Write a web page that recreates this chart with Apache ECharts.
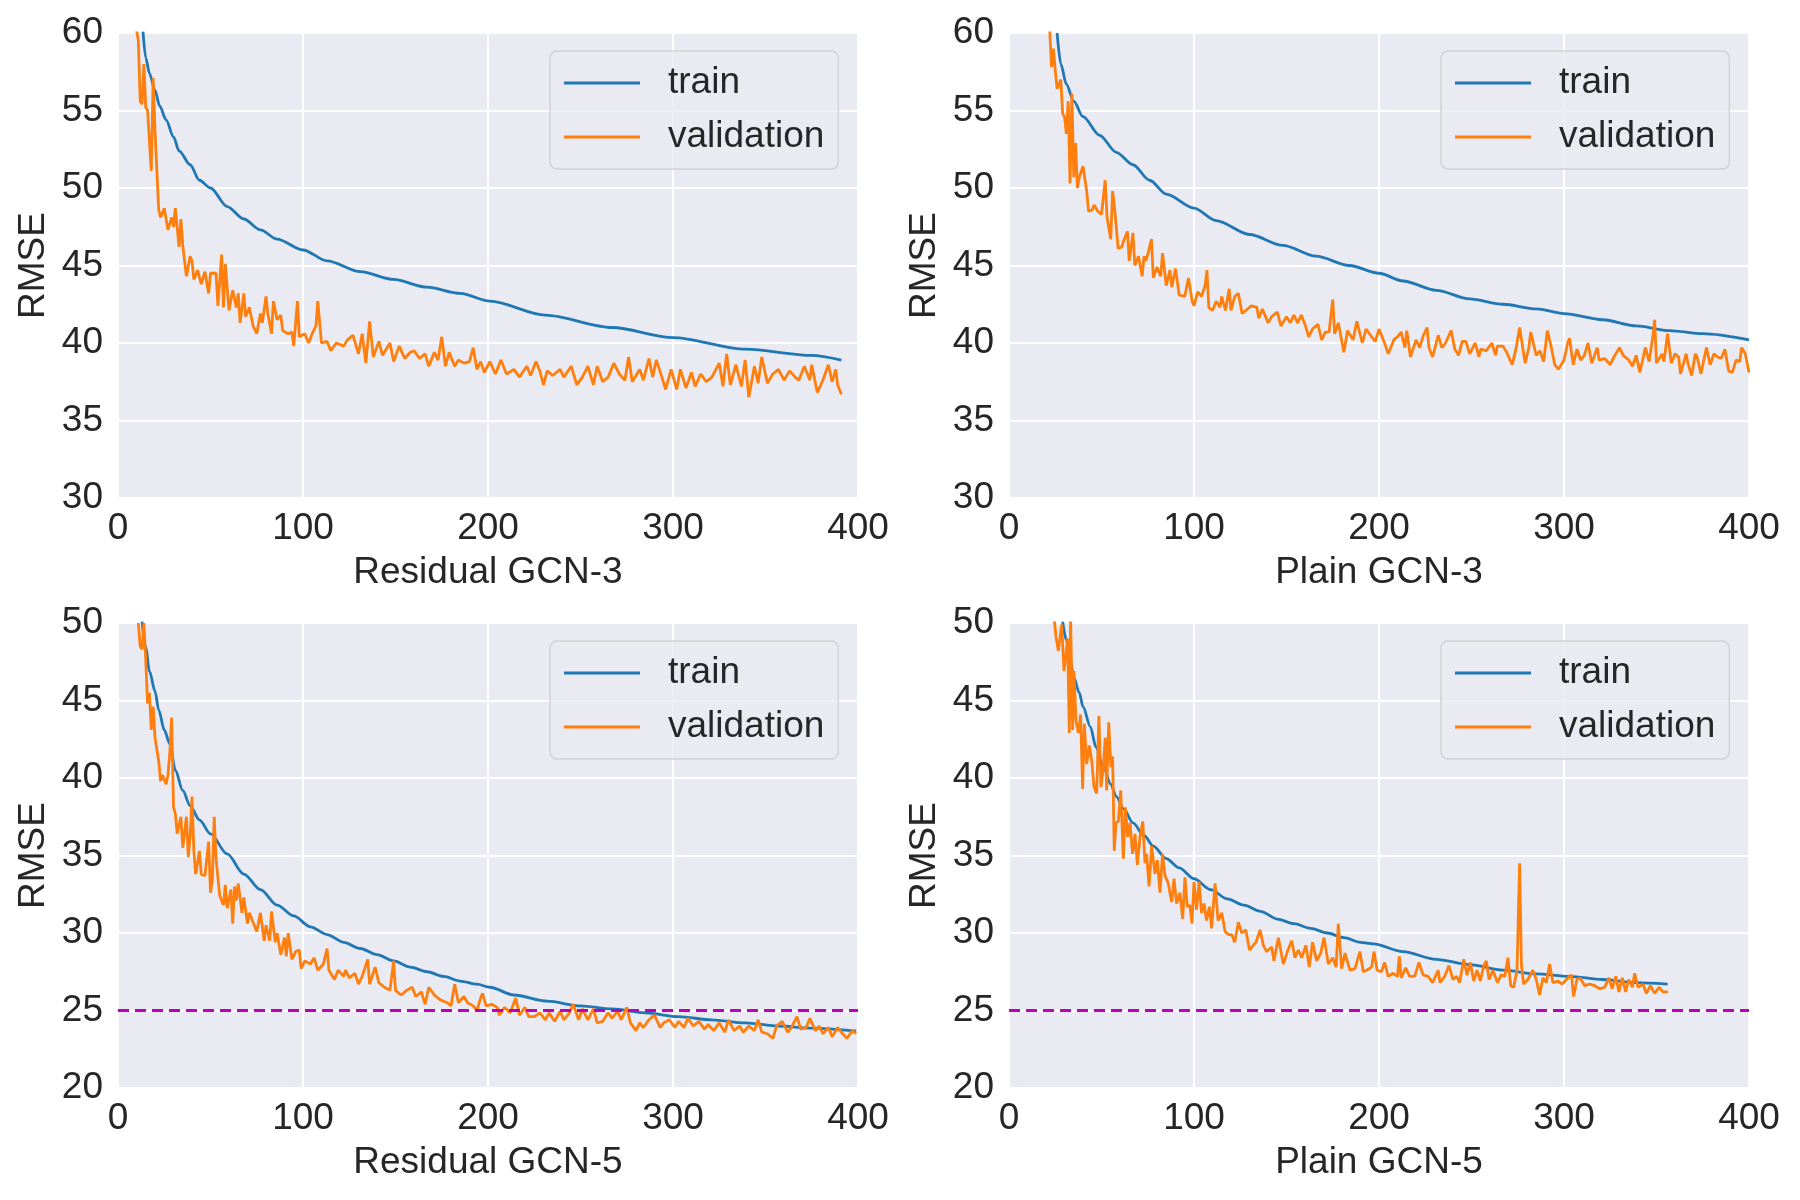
<!DOCTYPE html>
<html>
<head>
<meta charset="utf-8">
<title>RMSE curves</title>
<script src="https://cdn.jsdelivr.net/npm/echarts@6/dist/echarts.min.js"></script>
<style>
  html, body { margin: 0; padding: 0; background: #ffffff; }
  #main { width: 1800px; height: 1200px; }
</style>
</head>
<body>
<div id="main"></div>
<script>
// panel titles (x axis names)
var panelNames = ['Residual GCN-3', 'Plain GCN-3', 'Residual GCN-5', 'Plain GCN-5'];
var seriesNames = ['train', 'validation'];
var xTicks = [0, 100, 200, 300, 400];
var yRangeTop = [30, 60];
var yRangeBottom = [20, 50];
var targetRmse = 25;

// Residual GCN-3  [epoch, rmse]
var res3Train = [[13.5,60.1],[15,58.4],[17,57.4],[20,56.3],[22.5,55.3],[26,54.4],[30,53.3],[33,52.4],[39,51.5],[44,50.5],[50,50.0],[59,48.8],[68,48.0],[77,47.3],[86,46.7],[100,46.0],[113,45.3],[131,44.6],[149,44.1],[167,43.6],[185,43.2],[201,42.7],[231,41.8],[267,41.0],[300,40.35],[339,39.6],[375,39.2],[391,38.9]];
var res3Val = [[10,60.2],[11,59.5],[12,55.6],[13,55.4],[14,58],[15,55.2],[16,55],[17,53],[18,51.1],[19,57.1],[20,53.7],[22,48.6],[23,48.1],[25,48.7],[27,47.3],[29,48.1],[30,47.5],[31,48.7],[33,46.2],[34,48],[35,46.3],[37,44.3],[39,45.6],[40,45.3],[41,44.1],[43,44.7],[45,43.8],[47,44.6],[49,43.2],[50,44.5],[53,44.5],[54,42.4],[56,45.7],[57,42.3],[58,45.1],[60,42.1],[62,43.4],[64,42.3],[65,43.2],[66,41.3],[68,43.2],[69,41.7],[71,42.3],[73,41.1],[75,40.6],[77,41.9],[78,41.3],[80,43],[81,41.9],[83,40.6],[84,42.7],[86,41.5],[88,41.8],[89,40.8],[92,40.6],[94,40.7],[95,39.8],[97,42.7],[98,40.4],[101,40.6],[103,40],[105,40.6],[107,41.1],[108,42.7],[110,40],[113,40.1],[115,39.5],[118,40],[122,39.8],[124,40.2],[127,40.5],[130,39.3],[132,40.6],[134,38.7],[136,41.4],[138,39.1],[141,40.1],[143,39.2],[147,40],[149,38.8],[152,39.8],[155,39],[158,39.4],[160,39.5],[163,39],[166,39.3],[168,38.5],[171,39.4],[173,38.9],[175,40.4],[177,38.5],[179,39.4],[182,38.5],[184,38.9],[187,38.7],[190,38.8],[192,39.7],[194,38.3],[196,38.8],[198,38.1],[201,38.8],[204,38],[207,38.9],[210,38],[214,38.3],[217,37.8],[221,38.5],[223,37.9],[226,38.8],[228,38.2],[230,37.3],[232,38.2],[235,37.9],[239,38.3],[241,37.8],[245,38.5],[248,37.3],[251,37.8],[254,38.5],[257,37.3],[259,38.5],[262,37.5],[265,37.8],[268,38.7],[271,38],[274,37.6],[276,39.1],[278,37.5],[282,38.3],[284,37.6],[287,39],[289,37.8],[291,38.9],[294,37.8],[296,37],[299,38.3],[302,37],[304,38.3],[307,37.1],[310,38.1],[312,37.2],[315,38],[318,37.5],[321,37.8],[325,38.7],[327,37.2],[329,39.3],[331,37.3],[334,38.6],[337,37.2],[339,38.9],[341,36.5],[344,38.5],[346,37.4],[348,39.1],[351,37.4],[354,38],[357,38.3],[360,37.6],[363,38.2],[366,37.8],[368,37.6],[371,38.5],[374,37.6],[375,38.6],[378,36.8],[381,37.6],[384,38.6],[386,37.5],[388,38.3],[389,37.3],[391,36.7]];

// Plain GCN-3
var plain3Train = [[26,60],[28,58],[31,56.7],[35,55.6],[40,54.6],[49,53.4],[58,52.3],[67,51.5],[76,50.5],[85,49.6],[100,48.7],[112,47.9],[130,47],[148,46.3],[166,45.6],[184,45],[200,44.5],[213,44.0],[231,43.4],[249,42.85],[267,42.5],[285,42.2],[300,41.9],[321,41.5],[339,41.1],[357,40.8],[375,40.6],[400,40.2]];
var plain3Val = [[22,60.2],[23,57.8],[24,59],[25,57.6],[26,56.4],[28,57],[29,54.8],[30,54.6],[31,53.5],[32,55.6],[33,50.3],[34,56.1],[35,50.7],[36,52.9],[37,50],[38,50.7],[40,51.4],[42,49.8],[43,48.5],[45,48.6],[46,48.9],[48,48.5],[50,48.3],[52,50.5],[53,48.1],[55,46.7],[56,49.8],[57,48.8],[59,46.1],[61,46.2],[62,46.6],[64,47.2],[65,45.3],[67,47.1],[68,45],[70,45.6],[72,44.3],[73,45.6],[74,45.3],[75,45.7],[77,46.7],[78,44.2],[80,44.9],[82,44.3],[83,45.8],[85,43.7],[87,44.7],[88,43.6],[90,44.8],[92,43.1],[95,43],[97,44.2],[99,42.7],[100,42.4],[102,43.3],[104,43],[106,43.7],[107,44.7],[108,42.3],[110,42.1],[112,42.7],[114,42.3],[115,43],[117,42.1],[119,43.5],[120,42.1],[122,43],[124,43.2],[126,41.9],[128,42.1],[131,42.4],[134,42.3],[135,41.6],[137,42.2],[140,41.3],[142,41.7],[145,42],[147,41.1],[150,41.7],[152,41.3],[154,41.8],[156,41.3],[158,41.8],[160,41.2],[162,40.4],[164,40.9],[167,41.2],[169,40.2],[171,40.7],[173,40.7],[175,42.8],[176,40.6],[178,41.3],[181,39.4],[183,40.8],[186,40.2],[188,41.4],[191,40],[193,40.9],[196,40.4],[198,40.1],[200,40.9],[203,40],[205,39.3],[208,40.2],[210,40.4],[212,40.7],[214,39.7],[215,40.8],[217,39.1],[220,40.2],[222,39.7],[224,40.5],[226,41],[227,39.7],[229,39.1],[232,40.5],[234,39.7],[236,40],[239,40.8],[241,39.6],[243,39.2],[245,40.1],[247,40.1],[249,39.3],[252,40],[254,39.1],[255,39.6],[258,39.5],[261,40],[263,39.2],[264,39.8],[267,39.8],[269,39.4],[272,38.6],[274,39.6],[276,41],[279,38.7],[281,39.7],[282,40.7],[285,39.2],[287,39.5],[289,38.8],[291,40.8],[293,39.8],[295,38.6],[297,38.3],[300,38.9],[302,40],[303,40.3],[305,38.6],[307,39.6],[309,38.9],[311,39.2],[313,40],[315,38.7],[318,39.7],[319,38.9],[322,39],[325,38.6],[327,39.1],[330,39.7],[332,39.2],[335,38.9],[337,38.5],[339,39.2],[341,38.1],[344,39.7],[346,38.8],[348,40.4],[349,41.5],[350,38.7],[353,39.3],[354,38.8],[356,40.6],[358,38.7],[360,39.3],[362,39.1],[363,38],[366,39.3],[367,38.7],[369,37.9],[371,39.3],[372,39.1],[374,38],[377,39.7],[379,38.6],[381,39.3],[383,39.1],[385,39],[387,39.6],[389,38.2],[391,38.1],[393,38.9],[395,38.8],[396,39.7],[398,39.3],[400,38.1]];

// Residual GCN-5
var res5Train = [[13,50.1],[15,48.4],[17,46.9],[20,45.6],[22,44.4],[25,43.1],[28,42.2],[31,40.5],[35,39.2],[39,38.2],[44,37.3],[50,36.4],[59,35.1],[68,33.8],[77,32.8],[86,31.8],[95,31.1],[104,30.4],[113,29.9],[122,29.4],[131,29],[140,28.6],[149,28.2],[158,27.8],[167,27.5],[176,27.2],[185,26.9],[194,26.7],[201,26.5],[214,26.0],[232,25.6],[250,25.3],[267,25.1],[285,24.85],[303,24.6],[321,24.4],[339,24.2],[357,24.0],[375,23.86],[399,23.67]];
var res5Val = [[11,50],[12,48.5],[13,48.3],[14,50],[15,47.6],[16,44.8],[17,45.5],[18,43.1],[19,44.6],[20,42.6],[22,41.1],[23,39.8],[24,40.2],[26,39.6],[27,40.2],[28,41.6],[29,43.9],[30,38.1],[31,37.7],[32,36.4],[34,37.5],[35,35.5],[37,37.5],[38,34.9],[39,36.2],[40,38.8],[41,35.3],[42,33.8],[44,35.3],[45,33.8],[47,33.7],[49,35.9],[50,32.6],[51,33.4],[52,37.5],[53,34.8],[55,32.4],[57,31.8],[58,33.1],[59,31.6],[61,32.8],[62,30.6],[63,33],[64,32.1],[65,33.2],[67,31.3],[68,32.3],[70,30.6],[71,31.3],[73,30.7],[75,30.1],[77,31.3],[79,29.5],[80,30.5],[82,29.5],[83,31.4],[85,29.4],[86,30],[88,28.6],[90,29.7],[91,28.5],[92,30],[94,28.3],[96,28.8],[98,28.9],[99,27.7],[101,28.2],[104,28],[106,28.4],[108,27.6],[111,28],[113,29],[114,27.6],[117,27],[119,27.6],[122,27.2],[123,27.6],[125,27.1],[128,27.4],[130,26.7],[132,27.2],[135,28.3],[136,26.7],[139,27.8],[141,26.8],[144,26.5],[147,26.3],[149,28.2],[150,26.3],[153,26],[156,26.3],[159,26.5],[161,25.9],[164,26.2],[166,25.4],[168,26.5],[171,26],[174,25.7],[176,25.6],[178,25.5],[180,25.3],[182,26.7],[184,25.5],[187,25.9],[189,25.5],[192,25.3],[194,25],[196,25.8],[197,26.1],[199,25.3],[202,25.4],[205,25.2],[206,24.7],[209,25.2],[212,24.85],[215,25.8],[217,24.7],[220,25.2],[222,24.6],[225,24.6],[228,24.85],[231,24.4],[233,24.85],[236,24.3],[239,24.95],[241,24.4],[244,24.85],[246,25.4],[249,24.4],[251,25.1],[254,24.4],[257,25.1],[259,24.2],[262,24.3],[265,24.85],[267,24.5],[270,24.95],[272,24.4],[275,25.2],[277,24.2],[280,23.7],[282,24.2],[284,23.9],[287,24.4],[290,24.7],[293,23.9],[295,24.2],[298,24.4],[301,23.9],[303,24.3],[306,23.9],[308,24.5],[311,24],[314,24.3],[317,23.8],[319,24.1],[322,23.7],[325,24.2],[328,23.6],[330,24.4],[333,23.7],[336,24],[338,23.6],[341,24],[344,23.7],[346,24.4],[348,23.6],[351,23.5],[354,23.2],[356,24],[359,24.3],[362,23.6],[364,23.9],[367,24.6],[369,23.8],[372,23.9],[374,24.5],[377,23.7],[379,24],[381,23.5],[384,23.9],[386,23.3],[389,23.9],[391,23.6],[394,23.2],[397,23.7],[399,23.5]];

// Plain GCN-5
var plain5Train = [[29,50.1],[31,48.9],[33,47.7],[35,46.5],[38,45.5],[40,44.6],[44,43.3],[47,42],[51,40.7],[55,39.6],[58,38.8],[62,38],[67,37.1],[73,36.3],[78,35.6],[85,34.8],[92,34.2],[100,33.5],[109,32.8],[118,32.2],[127,31.8],[136,31.4],[145,30.9],[154,30.6],[163,30.3],[172,30],[181,29.7],[190,29.4],[197,29.3],[213,28.8],[231,28.3],[249,27.96],[267,27.6],[285,27.36],[303,27.2],[321,27.0],[339,26.8],[356,26.7]];
var plain5Val = [[24.5,50.2],[25.4,49.1],[26.7,48.2],[27.6,49.1],[28.5,49.9],[29.7,46.9],[30.8,48],[31.7,49],[32.6,42.9],[33.3,50.4],[34.4,43.1],[35.1,46.9],[36.2,43.7],[37.5,42.9],[38.7,44.1],[39.8,39.3],[40.7,43.5],[42,40.9],[43.4,42.1],[44.7,41.1],[46,39.4],[47.4,39],[48.6,44],[49.7,39.4],[51,40.7],[52,42.6],[52.8,39.2],[53.9,43.6],[55.1,40.7],[56,41.4],[56.9,35.3],[57.8,37.1],[59.1,37.2],[60.4,39.2],[61.8,34.8],[62.9,38.1],[64.1,36.2],[65.4,37.1],[66.8,35.1],[68.1,36.4],[69.4,34.4],[70.8,36.2],[72.3,37.2],[73.5,34.5],[74.4,35.1],[75.7,33],[77.1,35.6],[78.9,33.8],[80.2,34.7],[81.6,32.6],[83,35.1],[84.3,33.7],[86.1,33.2],[87.9,32],[89.2,33.5],[90.6,31.9],[92.4,32.6],[93.9,30.9],[95.1,33.6],[96.4,31.7],[97.8,31.8],[98.9,30.6],[100,33.3],[101.4,31.5],[102.7,33.3],[104.1,31.3],[105.4,31.9],[106.8,30.8],[108.3,31.7],[109.5,30.3],[111.4,33.2],[113,30.8],[115,31.3],[116.8,30.1],[118.6,29.9],[120.4,29.9],[122,29.4],[124,30.7],[125.8,30],[128,30.2],[130,28.9],[132,29.2],[133.5,29.4],[135.7,30.2],[137.5,29.2],[139.3,28.8],[142,29.1],[143.2,28.2],[145.6,29.7],[148.3,28],[150.5,28.8],[152.8,29.5],[154.6,28.4],[156.4,28.9],[158.2,28.4],[160.5,29.2],[162.3,27.8],[164.1,29.4],[166.3,28.2],[168.5,28.7],[170.3,29.7],[172.6,28],[175,28.4],[176.8,27.8],[178,30.6],[179.8,27.7],[181.6,28.7],[184.3,27.6],[187,27.7],[189.7,28.8],[191.5,27.5],[193.3,27.6],[196,27.8],[197.3,28.8],[199,27.6],[201.3,27.5],[203,28.1],[205,27.2],[207.6,27.4],[210,27.2],[211,28.5],[212,27.1],[214.4,27.75],[216.6,27.2],[219.3,27.2],[221.6,28.1],[223.8,27.3],[226.5,27.2],[229,26.8],[232,27.6],[233,26.8],[235.5,27.2],[237.8,27.9],[240,27],[242,27.2],[243.6,26.8],[245.8,28.3],[247.6,27.3],[249.4,28.1],[251.2,26.9],[253,27.6],[254.8,26.9],[256.6,27.9],[258,28.2],[259.5,27],[261.6,27.6],[264,26.8],[266,27.3],[268,27.2],[269.7,28.4],[271.2,26.6],[272.8,26.5],[274.6,27.6],[276,34.5],[277,27.9],[278.2,26.7],[280.5,27],[283.2,27.6],[285,27],[286.8,26],[288.6,27.1],[290.5,26.8],[292.2,28],[294,26.8],[296.8,26.9],[299,26.7],[301.3,27],[304,27.3],[305.2,25.9],[307,27],[308.8,27.1],[311.2,26.6],[313.9,26.7],[316.6,26.6],[319.3,26.4],[322,26.5],[324.3,27.1],[326,26.4],[328,27.2],[329.7,26.2],[331.5,27.1],[333.3,26.2],[335,27],[337,26.5],[338.2,27.4],[340,26.5],[342.7,26.7],[344.5,26.1],[346.7,26.6],[349,26.1],[351.4,26.5],[353.5,26.2],[356.2,26.2]];

var trainData = [res3Train, plain3Train, res5Train, plain5Train];
var valData = [res3Val, plain3Val, res5Val, plain5Val];

var fontName = "'Liberation Sans', Arial, sans-serif";
var textColor = '#262626';

// panel boxes in px: left, top
var panelPos = [[118, 33], [1009, 33], [118, 623], [1009, 623]];
var panelW = 740, panelH = 465;

var chart = echarts.init(document.getElementById('main'), null, {renderer: 'canvas'});

var grids = [], xAxes = [], yAxes = [], legends = [], series = [];

for (var i = 0; i < 4; i++) {
	var range = i < 2 ? yRangeTop : yRangeBottom;
	grids.push({
		left: panelPos[i][0],
		top: panelPos[i][1],
		width: panelW,
		height: panelH,
		show: true,
		backgroundColor: '#eaeaf2',
		borderWidth: 0
	});
	xAxes.push({
		gridIndex: i,
		type: 'value',
		min: xTicks[0],
		max: xTicks[xTicks.length - 1],
		interval: 100,
		name: panelNames[i],
		nameLocation: 'middle',
		nameGap: 56,
		nameTextStyle: {fontSize: 37, color: textColor, fontFamily: fontName},
		axisLine: {show: false},
		axisTick: {show: false},
		axisLabel: {fontSize: 37, color: textColor, fontFamily: fontName, margin: 12},
		splitLine: {show: true, lineStyle: {color: '#ffffff', width: 2}}
	});
	yAxes.push({
		gridIndex: i,
		type: 'value',
		min: range[0],
		max: range[1],
		interval: 5,
		name: 'RMSE',
		nameLocation: 'middle',
		nameRotate: 90,
		nameGap: 66,
		nameTextStyle: {fontSize: 37, color: textColor, fontFamily: fontName},
		axisLine: {show: false},
		axisTick: {show: false},
		axisLabel: {fontSize: 37, color: textColor, fontFamily: fontName, margin: 15},
		splitLine: {show: true, lineStyle: {color: '#ffffff', width: 2}}
	});
	legends.push({
		data: seriesNames,
		orient: 'vertical',
		left: panelPos[i][0] + 432,
		top: panelPos[i][1] + 18,
		icon: 'rect',
		itemWidth: 76,
		itemHeight: 3,
		itemGap: 14,
		padding: [12, 14, 12, 14],
		backgroundColor: 'rgba(234,234,242,0.8)',
		borderColor: 'rgba(204,204,204,0.8)',
		borderWidth: 1.5,
		borderRadius: 7,
		selectedMode: false,
		formatter: function (name) { return '{g| }' + name; },
		textStyle: {
			fontSize: 37,
			color: textColor,
			fontFamily: fontName,
			lineHeight: 40,
			rich: {g: {width: 23, fontSize: 37}}
		}
	});
	series.push({
		name: seriesNames[0],
		type: 'line',
		xAxisIndex: i,
		yAxisIndex: i,
		data: trainData[i],
		showSymbol: false,
		symbol: 'none',
		smooth: 0.3,
		smoothMonotone: 'x',
		clip: true,
		color: '#1f77b4',
		lineStyle: {width: 2.8, color: '#1f77b4'}
	});
	var valSeries = {
		name: seriesNames[1],
		type: 'line',
		xAxisIndex: i,
		yAxisIndex: i,
		data: valData[i],
		showSymbol: false,
		symbol: 'none',
		clip: true,
		color: '#ff7f0e',
		lineStyle: {width: 2.8, color: '#ff7f0e'}
	};
	// bottom panels carry the 25 RMSE target line
	if (i >= 2) {
		valSeries.markLine = {
			silent: true,
			symbol: ['none', 'none'],
			label: {show: false},
			animation: false,
			lineStyle: {color: '#bf00bf', type: [11, 6], width: 2.8},
			data: [{yAxis: targetRmse}]
		};
	}
	series.push(valSeries);
}

chart.setOption({
	backgroundColor: '#ffffff',
	animation: false,
	textStyle: {fontFamily: fontName},
	grid: grids,
	xAxis: xAxes,
	yAxis: yAxes,
	legend: legends,
	series: series
});
</script>
</body>
</html>
